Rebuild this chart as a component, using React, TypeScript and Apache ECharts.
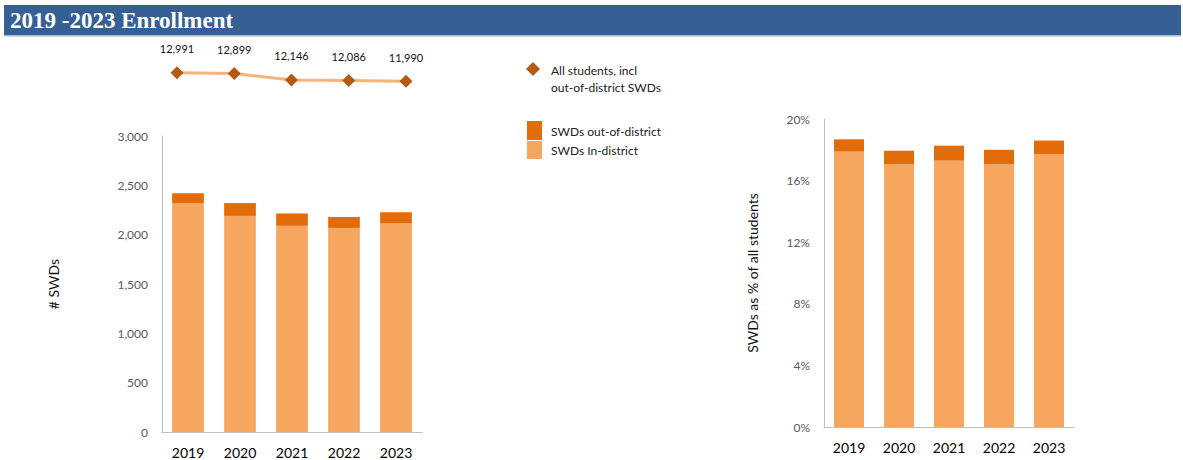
import React, { useEffect, useRef } from "react";
import * as echarts from "echarts";

const years = ["2019", "2020", "2021", "2022", "2023"];
const allStudents = [12991, 12899, 12146, 12086, 11990];
const swdInDistrict = [2320, 2190, 2090, 2068, 2115];
const swdOutDistrict = [100, 130, 125, 112, 112];
const pctInDistrict = [17.88, 17.06, 17.3, 17.06, 17.73];
const pctOutDistrict = [0.8, 0.88, 0.97, 0.94, 0.87];
const countTicks = { min: 0, max: 3000, interval: 500 };
const pctTicks = { min: 0, max: 20, interval: 4 };

const FONT = "Lato, 'Open Sans', sans-serif";
const LIGHT = "#F7A660";
const DARK = "#E36C0A";
const LINE = "#F9B27C";
const MARK = "#B55A12";

export default function App() {
  const ref = useRef<HTMLDivElement>(null);
  useEffect(() => {
    document.body.style.margin = "0";
    const chart = echarts.init(ref.current!, undefined, { renderer: "svg" });
    const axisLabelY = { color: "#595959", fontSize: 12, fontFamily: FONT, margin: 14 };
    const axisLabelX = { color: "#000", fontSize: 14, fontFamily: FONT, margin: 13 };
    const axisLine = { show: true, lineStyle: { color: "#BFBFBF", width: 1 } };
    chart.setOption({
      animation: false,
      backgroundColor: "#ffffff",
      textStyle: { fontFamily: FONT },
      grid: [
        { left: 162, width: 260, top: 136, height: 296 },
        { left: 177, width: 229, top: 64, height: 120 },
        { left: 824, width: 250, top: 119, height: 308 },
      ],
      xAxis: [
        { type: "category", gridIndex: 0, data: years, axisLine, axisTick: { show: false }, axisLabel: axisLabelX },
        { type: "category", gridIndex: 1, data: years, boundaryGap: false, show: false },
        { type: "category", gridIndex: 2, data: years, axisLine, axisTick: { show: false }, axisLabel: axisLabelX },
      ],
      yAxis: [
        {
          type: "value", gridIndex: 0, ...countTicks, axisLine, axisTick: { show: false }, splitLine: { show: false },
          axisLabel: { ...axisLabelY, formatter: (v: number) => v.toLocaleString("en-US") },
          name: "# SWDs", nameLocation: "middle", nameGap: 102,
          nameTextStyle: { color: "#111", fontSize: 14, fontFamily: FONT },
        },
        { type: "value", gridIndex: 1, min: 0, max: 14000, show: false },
        {
          type: "value", gridIndex: 2, ...pctTicks, axisLine, axisTick: { show: false }, splitLine: { show: false },
          axisLabel: { ...axisLabelY, formatter: "{value}%" },
          name: "SWDs as % of all students", nameLocation: "middle", nameGap: 65,
          nameTextStyle: { color: "#111", fontSize: 14, fontFamily: FONT },
        },
      ],
      series: [
        { type: "bar", name: "SWDs In-district", xAxisIndex: 0, yAxisIndex: 0, stack: "a", data: swdInDistrict, barWidth: "61%", itemStyle: { color: LIGHT } },
        { type: "bar", name: "SWDs out-of-district", xAxisIndex: 0, yAxisIndex: 0, stack: "a", data: swdOutDistrict, barWidth: "61%", itemStyle: { color: DARK } },
        {
          type: "line", name: "All students", xAxisIndex: 1, yAxisIndex: 1, data: allStudents,
          lineStyle: { color: LINE, width: 3 }, symbol: "diamond", symbolSize: [13, 13],
          itemStyle: { color: MARK },
          label: { show: true, position: "top", distance: 12, color: "#111", fontSize: 11, fontFamily: FONT, formatter: (p: any) => Number(p.value).toLocaleString("en-US") },
        },
        { type: "bar", name: "pct in", xAxisIndex: 2, yAxisIndex: 2, stack: "b", data: pctInDistrict, barWidth: "60%", itemStyle: { color: LIGHT } },
        { type: "bar", name: "pct out", xAxisIndex: 2, yAxisIndex: 2, stack: "b", data: pctOutDistrict, barWidth: "60%", itemStyle: { color: DARK } },
      ],
      graphic: [
        { type: "rect", shape: { x: 4, y: 5, width: 1177, height: 30 }, style: { fill: "#365F93" } },
        { type: "rect", shape: { x: 4, y: 35, width: 1177, height: 1.5 }, style: { fill: "#A8BAD3" } },
        { type: "text", x: 10, y: 20, style: { text: "2019 -2023 Enrollment", fill: "#ffffff", font: "bold 23px 'Liberation Serif', serif", verticalAlign: "middle" } },
        { type: "polygon", shape: { points: [[533, 62], [540, 69], [533, 76], [526, 69]] }, style: { fill: MARK } },
        { type: "text", x: 551, y: 70, style: { text: "All students, incl", fill: "#222", font: `12px ${FONT}`, verticalAlign: "middle" } },
        { type: "text", x: 551, y: 87, style: { text: "out-of-district SWDs", fill: "#222", font: `12px ${FONT}`, verticalAlign: "middle" } },
        { type: "rect", shape: { x: 527, y: 121, width: 15, height: 19 }, style: { fill: DARK } },
        { type: "rect", shape: { x: 527, y: 141, width: 15, height: 18 }, style: { fill: LIGHT } },
        { type: "text", x: 551, y: 131, style: { text: "SWDs out-of-district", fill: "#222", font: `12px ${FONT}`, verticalAlign: "middle" } },
        { type: "text", x: 551, y: 150, style: { text: "SWDs In-district", fill: "#222", font: `12px ${FONT}`, verticalAlign: "middle" } },
      ],
    });
    return () => chart.dispose();
  }, []);
  return <div ref={ref} style={{ position: "fixed", left: 0, top: 0, width: 1183, height: 460 }} />;
}
